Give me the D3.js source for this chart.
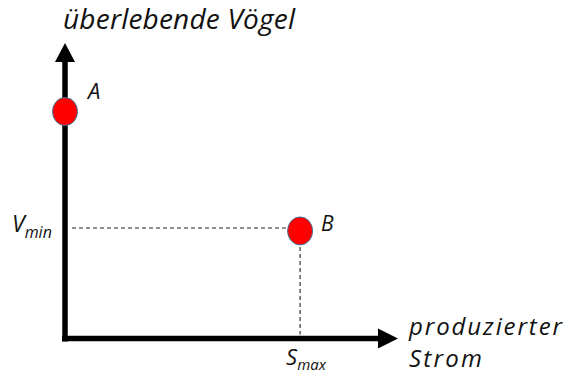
<!DOCTYPE html>
<html>
<head>
<meta charset="utf-8">
<script src="https://cdn.jsdelivr.net/npm/d3@7"></script>
<style>
  body { margin: 0; background: #fff; }
  text { font-family: "Open Sans", sans-serif; font-style: italic; fill: #111; }
</style>
</head>
<body>
<div id="chart"></div>
<script>
// points on the sketch (relative units)
const pointNames = ["A", "B"];
const pointX = [0, 0.706];
const pointY = [0.768, 0.364];

const yTitle = "überlebende Vögel";
const xTitle = ["produzierter", "Strom"];
const yTick = { base: "V", sub: "min" };
const xTick = { base: "S", sub: "max" };

const width = 572, height = 376;

const svg = d3.select("#chart").append("svg")
  .attr("width", width)
  .attr("height", height);

const x = d3.scaleLinear().domain([0, 1]).range([65, 398]);
const y = d3.scaleLinear().domain([0, 1]).range([338.5, 43]);

// dashed guides from point B
const bx = x(pointX[1]), by = y(pointY[1]);
svg.append("line")
  .attr("x1", x(0) + 7).attr("x2", bx - 13)
  .attr("y1", by - 3).attr("y2", by - 3)
  .attr("stroke", "#222").attr("stroke-width", 1.1)
  .attr("stroke-dasharray", "4,3");
svg.append("line")
  .attr("x1", bx).attr("x2", bx)
  .attr("y1", by + 16).attr("y2", y(0) - 4)
  .attr("stroke", "#222").attr("stroke-width", 1.1)
  .attr("stroke-dasharray", "4,3");

// axes
svg.append("line")
  .attr("x1", x(0)).attr("x2", x(0))
  .attr("y1", y(0) + 3).attr("y2", y(1) + 16)
  .attr("stroke", "#000").attr("stroke-width", 5.5);
svg.append("line")
  .attr("x1", x(0) - 3).attr("x2", x(1) - 16)
  .attr("y1", y(0)).attr("y2", y(0))
  .attr("stroke", "#000").attr("stroke-width", 5.5);

// arrow heads
svg.append("path")
  .attr("d", `M${x(0)},${y(1)} L${x(0) - 10},${y(1) + 19} L${x(0) + 10},${y(1) + 19} Z`)
  .attr("fill", "#000");
svg.append("path")
  .attr("d", `M${x(1)},${y(0)} L${x(1) - 20},${y(0) - 10} L${x(1) - 20},${y(0) + 10} Z`)
  .attr("fill", "#000");

// points
svg.selectAll("ellipse.pt")
  .data(pointNames)
  .join("ellipse")
  .attr("class", "pt")
  .attr("cx", (d, i) => x(pointX[i]))
  .attr("cy", (d, i) => y(pointY[i]))
  .attr("rx", 12.5)
  .attr("ry", 14)
  .attr("fill", "#ff0000")
  .attr("stroke", "#41719c")
  .attr("stroke-width", 1);

svg.selectAll("text.pt-label")
  .data(pointNames)
  .join("text")
  .attr("class", "pt-label")
  .attr("x", (d, i) => x(pointX[i]) + (i === 0 ? 23 : 21))
  .attr("y", (d, i) => y(pointY[i]) + (i === 0 ? -13 : 0))
  .attr("font-size", (d, i) => i === 0 ? 22 : 21)
  .text(d => d);

// axis titles
svg.append("text")
  .attr("x", 63).attr("y", 29)
  .attr("font-size", 28)
  .attr("textLength", 232)
  .attr("lengthAdjust", "spacing")
  .text(yTitle);

// x title: two lines
const xTitleLen = [153, 73];
svg.selectAll("text.x-title")
  .data(xTitle)
  .join("text")
  .attr("class", "x-title")
  .attr("font-size", 24)
  .attr("x", 409)
  .attr("y", (d, i) => 335 + i * 32)
  .attr("textLength", (d, i) => xTitleLen[i])
  .attr("lengthAdjust", "spacing")
  .text(d => d);

// tick labels with subscripts
const vt = svg.append("text")
  .attr("x", 12).attr("y", 232)
  .attr("font-size", 23);
vt.append("tspan").text(yTick.base);
vt.append("tspan").attr("dy", 6).attr("font-size", 16).text(yTick.sub);

const st = svg.append("text")
  .attr("x", bx - 14).attr("y", 365)
  .attr("font-size", 22);
st.append("tspan").text(xTick.base);
st.append("tspan").attr("dy", 5).attr("font-size", 15).text(xTick.sub);
</script>
</body>
</html>
